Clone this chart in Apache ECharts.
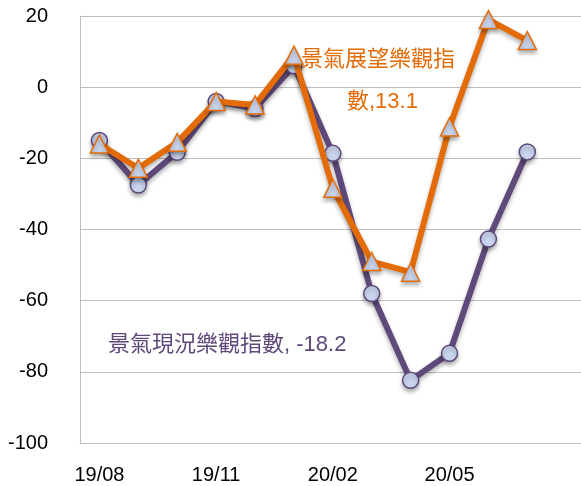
<!DOCTYPE html>
<html>
<head>
<meta charset="utf-8">
<script src="https://cdn.jsdelivr.net/npm/echarts@6/dist/echarts.min.js"></script>
<style>
  html, body { margin: 0; padding: 0; background: #fff; }
  #chart { width: 581px; height: 486px; }
</style>
</head>
<body>
<div id="chart"></div>
<script>
// 月份
var months = ['19/08', '19/09', '19/10', '19/11', '19/12', '20/01',
  '20/02', '20/03', '20/04', '20/05', '20/06', '20/07'];
var tickMonths = ['19/08', '19/11', '20/02', '20/05'];

// 景氣現況樂觀指數
var currentIdx = [-15, -27.5, -18.3, -4, -6, 6, -18.6, -58, -82.4, -74.8, -42.7, -18.2];
// 景氣展望樂觀指數
var outlookIdx = [-16, -22.8, -15.5, -4, -5, 9, -28.4, -49, -52, -11.2, 19, 13.1];

var yTicks = { min: -100, max: 20, step: 20 };

var purple = '#5f497a';
var orange = '#e36c09';
var markFill = '#c9d5ee';

// 以月份序號當 x，方便讓格線延伸到圖右邊
function toPairs(arr) {
  return arr.map(function (v, i) { return [i, v]; });
}

var chart = echarts.init(document.getElementById('chart'));

var font = '"Liberation Sans", Arial, sans-serif';
var textFont = '22px "Liberation Sans", "Noto Sans CJK TC", sans-serif';
var shadow = { shadowColor: 'rgba(0,0,0,0.3)', shadowBlur: 4, shadowOffsetY: 3 };

chart.setOption({
  animation: false,
  grid: { left: 80, right: 0, top: 16, bottom: 43, containLabel: false },
  xAxis: {
    type: 'value',
    min: -0.5,
    max: 12.38,
    axisLine: { show: true, onZero: false, lineStyle: { color: '#bfbfbf', width: 1 } },
    axisTick: { show: false },
    axisLabel: {
      customValues: tickMonths.map(function (m) { return months.indexOf(m); }),
      formatter: function (v) { return months[Math.round(v)] || ''; },
      color: '#000', fontSize: 20, fontFamily: font, margin: 22
    },
    splitLine: { show: false }
  },
  yAxis: {
    type: 'value',
    min: yTicks.min, max: yTicks.max, interval: yTicks.step,
    axisLine: { show: true, onZero: false, lineStyle: { color: '#bfbfbf', width: 1 } },
    axisTick: { show: false },
    axisLabel: { color: '#000', fontSize: 20, fontFamily: font, margin: 32 },
    splitLine: { show: true, lineStyle: { color: '#bfbfbf', width: 1 } }
  },
  series: [
    {
      name: '景氣現況樂觀指數',
      type: 'line',
      data: toPairs(currentIdx),
      symbol: 'circle',
      symbolSize: 16,
      lineStyle: Object.assign({ color: purple, width: 6 }, shadow),
      itemStyle: Object.assign({ color: markFill, borderColor: purple, borderWidth: 1.5 }, shadow),
      z: 2
    },
    {
      name: '景氣展望樂觀指數',
      type: 'line',
      data: toPairs(outlookIdx),
      symbol: 'triangle',
      symbolSize: 18,
      lineStyle: Object.assign({ color: orange, width: 6 }, shadow),
      itemStyle: Object.assign({ color: markFill, borderColor: orange, borderWidth: 1.5 }, shadow),
      z: 3
    }
  ],
  graphic: [
    {
      type: 'text', left: 301, top: 49, z: 10,
      style: { text: '景氣展望樂觀指', fill: orange, font: textFont }
    },
    {
      type: 'text', left: 347, top: 91, z: 10,
      style: { text: '數,13.1', fill: orange, font: textFont }
    },
    {
      type: 'text', left: 108, top: 334, z: 10,
      style: { text: '景氣現況樂觀指數, -18.2', fill: purple, font: textFont }
    }
  ]
});
</script>
</body>
</html>
